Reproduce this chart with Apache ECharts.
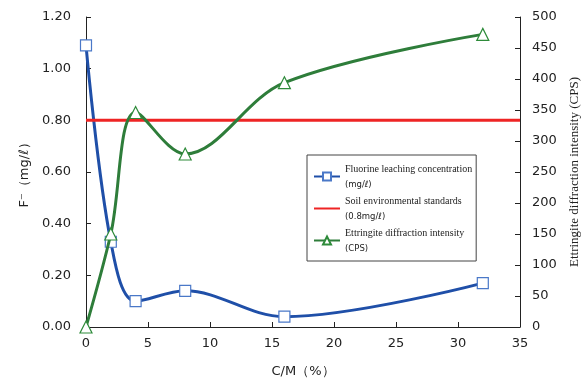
<!DOCTYPE html>
<html lang="en" style="height: 100%">
<head>
  <meta charset="utf-8">
</head>
<body style="height: 100%; margin: 0; background-color: #fff">
  <div id="container" style="width: 582px; height: 385px"></div>
  <script type="text/javascript" src="https://cdn.jsdelivr.net/npm/echarts@6.0.0/dist/echarts.min.js"></script>
  <script type="text/javascript">
    // C/M (%)
    var cm = [0, 2, 4, 8, 16, 32];
    // fluorine leaching concentration (mg/l)
    var fluorine = [1.09, 0.33, 0.10, 0.14, 0.04, 0.17];
    // ettringite diffraction intensity (CPS)
    var ettringite = [0, 150, 346, 279, 394, 472];
    // soil standard
    var standard = 0.8;
    var xRange = [0, 35];

    var subLines = {
      'Fluorine leaching concentration': '(mg/ℓ)',
      'Soil environmental standards': '(0.8mg/ℓ)',
      'Ettringite diffraction intensity': '(CPS)'
    };

    function pairs(xs, ys) {
      return xs.map(function (x, i) { return [x, ys[i]]; });
    }

    var myChart = echarts.init(document.getElementById('container'), null, { renderer: 'canvas' });

    var axisText = { color: '#222', fontSize: 13, fontFamily: 'DejaVu Sans' };

    var option = {
      animation: false,
      grid: { left: 86, right: 62, top: 17, bottom: 58, outerBoundsMode: 'none', containLabel: false },
      legend: {
        orient: 'vertical',
        left: 307,
        top: 155,
        width: 168,
        padding: [9, 4, 8, 6],
        itemGap: 7,
        itemWidth: 26,
        itemHeight: 10,
        borderColor: '#444',
        borderWidth: 1,
        backgroundColor: '#fff',
        data: [
          'Fluorine leaching concentration',
          { name: 'Soil environmental standards', itemStyle: { opacity: 0 } },
          'Ettringite diffraction intensity'
        ],
        formatter: function (name) {
          return '{a|' + name + '}\n{b|' + subLines[name] + '}';
        },
        textStyle: {
          rich: {
            a: { fontFamily: 'Liberation Serif', fontSize: 10, color: '#222', lineHeight: 16 },
            b: { fontFamily: 'DejaVu Sans', fontSize: 8.5, color: '#222', lineHeight: 15 }
          }
        }
      },
      xAxis: {
        type: 'value',
        min: xRange[0],
        max: xRange[1],
        interval: 5,
        name: 'C/M（%）',
        nameLocation: 'middle',
        nameGap: 38,
        nameTextStyle: axisText,
        axisLine: { lineStyle: { color: '#222' } },
        axisTick: { inside: true, length: 5, lineStyle: { color: '#222' } },
        axisLabel: Object.assign({ margin: 10 }, axisText),
        splitLine: { show: false }
      },
      yAxis: [{
        type: 'value',
        min: 0,
        max: 1.2,
        interval: 0.2,
        name: 'F⁻（mg/ℓ）',
        nameLocation: 'middle',
        nameGap: 42,
        nameTextStyle: axisText,
        axisLine: { show: true, lineStyle: { color: '#222' } },
        axisTick: { show: true, inside: true, length: 5, lineStyle: { color: '#222' } },
        axisLabel: Object.assign({ margin: 15, formatter: function (v) { return v.toFixed(2); } }, axisText),
        splitLine: { show: false }
      }, {
        type: 'value',
        min: 0,
        max: 500,
        interval: 50,
        position: 'right',
        name: 'Ettringite diffraction intensity (CPS)',
        nameLocation: 'middle',
        nameRotate: 90,
        nameGap: 46,
        nameTextStyle: { color: '#222', fontSize: 13, fontFamily: 'Liberation Serif' },
        axisLine: { show: true, lineStyle: { color: '#222' } },
        axisTick: { show: true, inside: true, length: 5, lineStyle: { color: '#222' } },
        axisLabel: Object.assign({ margin: 12 }, axisText),
        splitLine: { show: false }
      }],
      series: [{
        name: 'Fluorine leaching concentration',
        type: 'line',
        smooth: 0.35,
        data: pairs(cm, fluorine),
        symbol: 'rect',
        symbolSize: 11,
        z: 3,
        lineStyle: { color: '#1f4fa8', width: 3 },
        itemStyle: { color: '#fff', borderColor: '#4a78c8', borderWidth: 1.2 }
      }, {
        name: 'Soil environmental standards',
        type: 'line',
        data: [[xRange[0], standard], [xRange[1], standard]],
        symbol: 'none',
        lineStyle: { color: '#ee2424', width: 3 },
        itemStyle: { color: '#ee2424' }
      }, {
        name: 'Ettringite diffraction intensity',
        type: 'line',
        yAxisIndex: 1,
        smooth: 0.35,
        data: pairs(cm, ettringite),
        symbol: 'triangle',
        symbolSize: 12,
        z: 4,
        lineStyle: { color: '#2e7d3a', width: 3 },
        itemStyle: { color: '#fff', borderColor: '#2e8b3a', borderWidth: 1.2 }
      }]
    };

    myChart.setOption(option);
  </script>
</body>
</html>
